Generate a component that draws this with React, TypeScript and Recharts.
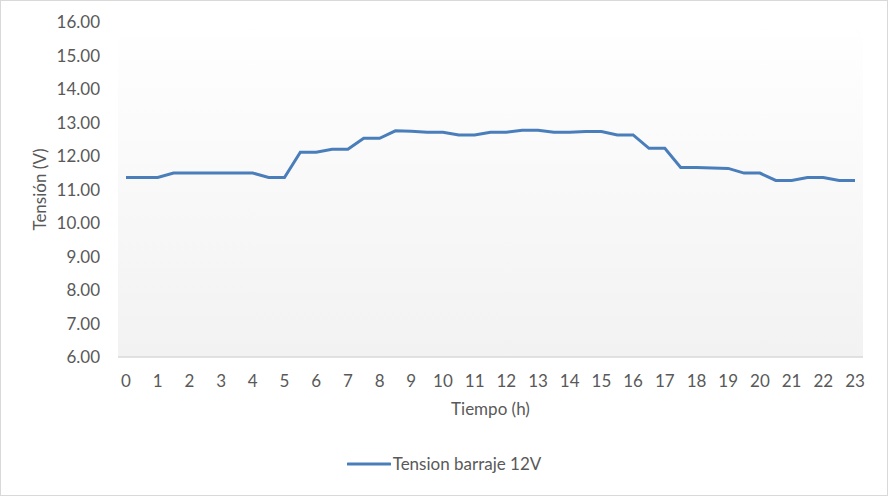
import React from "react";
import { LineChart, Line, XAxis, YAxis, CartesianGrid, Legend, Label } from "recharts";

const hours: number[] = [
  0, 0.5, 1, 1.5, 2, 2.5, 3, 3.5, 4, 4.5, 5, 5.5, 6, 6.5, 7, 7.5, 8, 8.5, 9, 9.5,
  10, 10.5, 11, 11.5, 12, 12.5, 13, 13.5, 14, 14.5, 15, 15.5, 16, 16.5, 17, 17.5,
  18, 18.5, 19, 19.5, 20, 20.5, 21, 21.5, 22, 22.5, 23,
];

const tension: number[] = [
  11.36, 11.36, 11.36, 11.49, 11.49, 11.49, 11.49, 11.49, 11.49, 11.36, 11.36,
  12.11, 12.11, 12.2, 12.2, 12.53, 12.53, 12.75, 12.74, 12.71, 12.71, 12.63,
  12.63, 12.71, 12.71, 12.77, 12.77, 12.71, 12.71, 12.73, 12.73, 12.63, 12.63,
  12.23, 12.23, 11.66, 11.66, 11.64, 11.63, 11.49, 11.49, 11.27, 11.27, 11.36,
  11.36, 11.27, 11.27,
];

const yTicks: number[] = [6, 7, 8, 9, 10, 11, 12, 13, 14, 15, 16];

const seriesName = "Tension barraje 12V";
const xTitle = "Tiempo (h)";
const yTitle = "Tensión (V)";

const data = hours.map((h, i) => ({ t: h, v: tension[i] }));

const FONT = "Lato, 'Open Sans', sans-serif";
const TEXT = "#595959";
const LINE = "#4A7EBB";

const LegendContent = () => (
  <div
    style={{
      display: "flex",
      justifyContent: "center",
      alignItems: "center",
      fontFamily: FONT,
      fontSize: 17,
      color: TEXT,
    }}
  >
    <svg width={44} height={10} style={{ marginRight: 2 }}>
      <line x1={1} y1={5} x2={43} y2={5} stroke={LINE} strokeWidth={3} strokeLinecap="round" />
    </svg>
    <span>{seriesName}</span>
  </div>
);

export default function App() {
  return (
    <div style={{ position: "absolute", left: 0, top: 0, width: 888, height: 496, background: "#fff" }}>
      <LineChart
        width={888}
        height={496}
        data={data}
        margin={{ top: 22, right: 25, bottom: 69, left: 0 }}
      >
        <defs>
          <linearGradient id="plotBg" x1="0" y1="0" x2="0" y2="1">
            <stop offset="0%" stopColor="#ffffff" />
            <stop offset="100%" stopColor="#f2f2f2" />
          </linearGradient>
        </defs>
        <CartesianGrid horizontal={false} vertical={false} fill="url(#plotBg)" stroke="none" />
        <XAxis
          dataKey="t"
          type="category"
          interval={1}
          padding={{ left: 8, right: 8 }}
          height={70}
          axisLine={{ stroke: "#d9d9d9", strokeWidth: 1.5 }}
          tickLine={false}
          tickSize={6}
          tickMargin={12}
          tick={{ fill: TEXT, fontSize: 17, fontFamily: FONT }}
        >
          <Label
            value={xTitle}
            position="insideBottom"
            offset={12}
            style={{ fill: TEXT, fontSize: 17, fontFamily: FONT }}
          />
        </XAxis>
        <YAxis
          type="number"
          domain={[6, 16]}
          ticks={yTicks}
          interval={0}
          width={118}
          axisLine={false}
          tickLine={false}
          tickSize={6}
          tickMargin={12}
          tickFormatter={(v: number) => v.toFixed(2)}
          tick={{ fill: TEXT, fontSize: 17, fontFamily: FONT }}
        >
          <Label
            value={yTitle}
            angle={-90}
            position="insideLeft"
            offset={40}
            style={{ fill: TEXT, fontSize: 17, fontFamily: FONT, textAnchor: "middle" }}
          />
        </YAxis>
        <Legend
          layout="horizontal"
          verticalAlign="middle"
          align="center"
          wrapperStyle={{ top: 453, left: 0, width: 888 }}
          content={LegendContent}
        />
        <Line
          type="linear"
          dataKey="v"
          name={seriesName}
          stroke={LINE}
          strokeWidth={3}
          dot={false}
          activeDot={false}
          isAnimationActive={false}
        />
      </LineChart>
      <div
        style={{
          position: "absolute",
          left: 0,
          top: 0,
          width: 888,
          height: 496,
          boxSizing: "border-box",
          border: "1.5px solid #d9d9d9",
          pointerEvents: "none",
        }}
      />
    </div>
  );
}
